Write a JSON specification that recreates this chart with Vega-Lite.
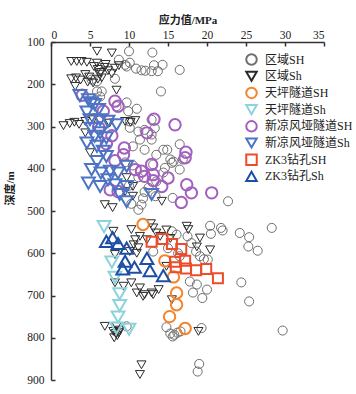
{
  "$schema": "https://vega.github.io/schema/vega-lite/v6.json",
  "autosize": "none",
  "width": 273,
  "height": 338,
  "padding": {"left": 51, "top": 42, "right": 32, "bottom": 14},
  "background": "white",
  "config": {
    "view": {"stroke": null},
    "font": "Liberation Serif, Noto Sans CJK SC",
    "axis": {"grid": false, "domainColor": "#333", "domainWidth": 1.5, "tickColor": "#333", "tickWidth": 1.5, "tickSize": -4, "labelFont": "Liberation Serif", "labelFontSize": 11.5, "labelColor": "#222", "titleFont": "Liberation Serif, Noto Sans CJK SC", "titleFontSize": 11, "titleFontWeight": "bold", "titleColor": "#222"},
    "legend": {"labelFont": "Liberation Serif, Noto Sans CJK SC", "labelFontSize": 12, "labelColor": "#222", "symbolSize": 110, "symbolStrokeWidth": 2}
  },
  "data": {"values": [
    {"v":10.0,"d":122,"s":"区域SH"},{"v":13.0,"d":125,"s":"区域SH"},{"v":8.7,"d":142,"s":"区域SH"},{"v":10.1,"d":149,"s":"区域SH"},{"v":9.5,"d":154,"s":"区域SH"},{"v":9.7,"d":158,"s":"区域SH"},{"v":10.9,"d":163,"s":"区域SH"},{"v":11.6,"d":167,"s":"区域SH"},{"v":12.1,"d":168,"s":"区域SH"},{"v":12.9,"d":169,"s":"区域SH"},{"v":13.2,"d":155,"s":"区域SH"},{"v":14.3,"d":154,"s":"区域SH"},{"v":13.7,"d":169,"s":"区域SH"},{"v":16.5,"d":166,"s":"区域SH"},{"v":14.1,"d":217,"s":"区域SH"},{"v":5.2,"d":189,"s":"区域SH"},{"v":5.9,"d":193,"s":"区域SH"},{"v":8.2,"d":187,"s":"区域SH"},{"v":5.9,"d":217,"s":"区域SH"},{"v":6.5,"d":217,"s":"区域SH"},{"v":6.3,"d":229,"s":"区域SH"},{"v":9.7,"d":243,"s":"区域SH"},{"v":8.4,"d":252,"s":"区域SH"},{"v":9.9,"d":264,"s":"区域SH"},{"v":11.0,"d":258,"s":"区域SH"},{"v":10.1,"d":288,"s":"区域SH"},{"v":10.1,"d":303,"s":"区域SH"},{"v":11.2,"d":312,"s":"区域SH"},{"v":12.0,"d":308,"s":"区域SH"},{"v":11.4,"d":331,"s":"区域SH"},{"v":12.9,"d":331,"s":"区域SH"},{"v":10.5,"d":347,"s":"区域SH"},{"v":12.0,"d":355,"s":"区域SH"},{"v":12.9,"d":284,"s":"区域SH"},{"v":13.3,"d":304,"s":"区域SH"},{"v":12.9,"d":319,"s":"区域SH"},{"v":13.5,"d":367,"s":"区域SH"},{"v":14.4,"d":355,"s":"区域SH"},{"v":14.9,"d":355,"s":"区域SH"},{"v":16.5,"d":342,"s":"区域SH"},{"v":15.3,"d":378,"s":"区域SH"},{"v":15.7,"d":383,"s":"区域SH"},{"v":13.1,"d":390,"s":"区域SH"},{"v":14.6,"d":398,"s":"区域SH"},{"v":15.5,"d":386,"s":"区域SH"},{"v":16.5,"d":402,"s":"区域SH"},{"v":16.9,"d":378,"s":"区域SH"},{"v":14.4,"d":409,"s":"区域SH"},{"v":9.5,"d":385,"s":"区域SH"},{"v":10.5,"d":392,"s":"区域SH"},{"v":11.2,"d":420,"s":"区域SH"},{"v":12.5,"d":445,"s":"区域SH"},{"v":10.0,"d":440,"s":"区域SH"},{"v":13.5,"d":430,"s":"区域SH"},{"v":11.8,"d":470,"s":"区域SH"},{"v":13.4,"d":465,"s":"区域SH"},{"v":12.0,"d":455,"s":"区域SH"},{"v":15.6,"d":469,"s":"区域SH"},{"v":22.7,"d":477,"s":"区域SH"},{"v":10.3,"d":483,"s":"区域SH"},{"v":11.2,"d":497,"s":"区域SH"},{"v":11.6,"d":485,"s":"区域SH"},{"v":20.4,"d":535,"s":"区域SH"},{"v":20.5,"d":554,"s":"区域SH"},{"v":21.8,"d":540,"s":"区域SH"},{"v":22.0,"d":546,"s":"区域SH"},{"v":24.2,"d":552,"s":"区域SH"},{"v":25.4,"d":562,"s":"区域SH"},{"v":25.3,"d":584,"s":"区域SH"},{"v":26.5,"d":594,"s":"区域SH"},{"v":28.3,"d":540,"s":"区域SH"},{"v":15.5,"d":548,"s":"区域SH"},{"v":16.1,"d":556,"s":"区域SH"},{"v":18.0,"d":576,"s":"区域SH"},{"v":18.6,"d":596,"s":"区域SH"},{"v":19.1,"d":607,"s":"区域SH"},{"v":16.5,"d":607,"s":"区域SH"},{"v":20.1,"d":615,"s":"区域SH"},{"v":19.6,"d":614,"s":"区域SH"},{"v":13.1,"d":596,"s":"区域SH"},{"v":15.0,"d":588,"s":"区域SH"},{"v":16.3,"d":600,"s":"区域SH"},{"v":17.5,"d":560,"s":"区域SH"},{"v":17.8,"d":667,"s":"区域SH"},{"v":18.7,"d":674,"s":"区域SH"},{"v":18.2,"d":693,"s":"区域SH"},{"v":19.4,"d":706,"s":"区域SH"},{"v":20.0,"d":686,"s":"区域SH"},{"v":24.4,"d":669,"s":"区域SH"},{"v":25.4,"d":714,"s":"区域SH"},{"v":19.3,"d":777,"s":"区域SH"},{"v":29.7,"d":783,"s":"区域SH"},{"v":14.8,"d":775,"s":"区域SH"},{"v":15.3,"d":790,"s":"区域SH"},{"v":15.8,"d":793,"s":"区域SH"},{"v":16.2,"d":788,"s":"区域SH"},{"v":16.6,"d":785,"s":"区域SH"},{"v":15.6,"d":797,"s":"区域SH"},{"v":9.7,"d":773,"s":"区域SH"},{"v":19.0,"d":862,"s":"区域SH"},{"v":18.8,"d":880,"s":"区域SH"},

    {"v":5.9,"d":122,"s":"区域Sh"},{"v":7.8,"d":126,"s":"区域Sh"},{"v":2.6,"d":146,"s":"区域Sh"},{"v":3.3,"d":146,"s":"区域Sh"},{"v":3.9,"d":146,"s":"区域Sh"},{"v":4.6,"d":148,"s":"区域Sh"},{"v":5.5,"d":158,"s":"区域Sh"},{"v":6.0,"d":165,"s":"区域Sh"},{"v":6.4,"d":172,"s":"区域Sh"},{"v":6.9,"d":160,"s":"区域Sh"},{"v":7.3,"d":168,"s":"区域Sh"},{"v":7.8,"d":175,"s":"区域Sh"},{"v":8.2,"d":162,"s":"区域Sh"},{"v":8.7,"d":156,"s":"区域Sh"},{"v":5.9,"d":150,"s":"区域Sh"},{"v":7.0,"d":153,"s":"区域Sh"},{"v":6.2,"d":176,"s":"区域Sh"},{"v":2.6,"d":187,"s":"区域Sh"},{"v":3.2,"d":185,"s":"区域Sh"},{"v":3.8,"d":190,"s":"区域Sh"},{"v":4.4,"d":177,"s":"区域Sh"},{"v":4.9,"d":183,"s":"区域Sh"},{"v":3.1,"d":205,"s":"区域Sh"},{"v":4.7,"d":195,"s":"区域Sh"},{"v":5.4,"d":197,"s":"区域Sh"},{"v":6.0,"d":188,"s":"区域Sh"},{"v":6.5,"d":185,"s":"区域Sh"},{"v":8.4,"d":214,"s":"区域Sh"},{"v":1.6,"d":298,"s":"区域Sh"},{"v":2.4,"d":293,"s":"区域Sh"},{"v":3.0,"d":290,"s":"区域Sh"},{"v":3.6,"d":295,"s":"区域Sh"},{"v":4.4,"d":288,"s":"区域Sh"},{"v":5.4,"d":284,"s":"区域Sh"},{"v":9.5,"d":288,"s":"区域Sh"},{"v":10.2,"d":290,"s":"区域Sh"},{"v":10.8,"d":286,"s":"区域Sh"},{"v":7.5,"d":292,"s":"区域Sh"},{"v":4.4,"d":315,"s":"区域Sh"},{"v":5.0,"d":362,"s":"区域Sh"},{"v":9.7,"d":421,"s":"区域Sh"},{"v":10.5,"d":442,"s":"区域Sh"},{"v":9.5,"d":454,"s":"区域Sh"},{"v":10.5,"d":465,"s":"区域Sh"},{"v":6.9,"d":485,"s":"区域Sh"},{"v":7.9,"d":492,"s":"区域Sh"},{"v":14.2,"d":477,"s":"区域Sh"},{"v":8.0,"d":548,"s":"区域Sh"},{"v":10.3,"d":544,"s":"区域Sh"},{"v":11.4,"d":560,"s":"区域Sh"},{"v":10.8,"d":568,"s":"区域Sh"},{"v":10.6,"d":580,"s":"区域Sh"},{"v":11.2,"d":587,"s":"区域Sh"},{"v":13.1,"d":540,"s":"区域Sh"},{"v":13.5,"d":552,"s":"区域Sh"},{"v":12.3,"d":568,"s":"区域Sh"},{"v":12.8,"d":530,"s":"区域Sh"},{"v":14.0,"d":560,"s":"区域Sh"},{"v":14.8,"d":545,"s":"区域Sh"},{"v":15.3,"d":565,"s":"区域Sh"},{"v":17.4,"d":536,"s":"区域Sh"},{"v":17.6,"d":544,"s":"区域Sh"},{"v":19.1,"d":564,"s":"区域Sh"},{"v":18.7,"d":585,"s":"区域Sh"},{"v":20.4,"d":592,"s":"区域Sh"},{"v":8.2,"d":603,"s":"区域Sh"},{"v":11.0,"d":600,"s":"区域Sh"},{"v":10.1,"d":596,"s":"区域Sh"},{"v":14.8,"d":631,"s":"区域Sh"},{"v":10.3,"d":670,"s":"区域Sh"},{"v":11.4,"d":682,"s":"区域Sh"},{"v":11.8,"d":702,"s":"区域Sh"},{"v":12.9,"d":694,"s":"区域Sh"},{"v":13.8,"d":686,"s":"区域Sh"},{"v":8.2,"d":670,"s":"区域Sh"},{"v":9.3,"d":678,"s":"区域Sh"},{"v":11.0,"d":694,"s":"区域Sh"},{"v":12.0,"d":698,"s":"区域Sh"},{"v":13.1,"d":698,"s":"区域Sh"},{"v":15.5,"d":710,"s":"区域Sh"},{"v":6.9,"d":773,"s":"区域Sh"},{"v":8.4,"d":773,"s":"区域Sh"},{"v":8.0,"d":785,"s":"区域Sh"},{"v":8.3,"d":790,"s":"区域Sh"},{"v":8.5,"d":795,"s":"区域Sh"},{"v":8.7,"d":788,"s":"区域Sh"},{"v":8.1,"d":800,"s":"区域Sh"},{"v":8.8,"d":782,"s":"区域Sh"},{"v":18.9,"d":785,"s":"区域Sh"},{"v":11.6,"d":864,"s":"区域Sh"},{"v":11.4,"d":887,"s":"区域Sh"},

    {"v":11.8,"d":532,"s":"天坪隧道SH"},{"v":14.6,"d":618,"s":"天坪隧道SH"},{"v":15.7,"d":656,"s":"天坪隧道SH"},{"v":16.1,"d":694,"s":"天坪隧道SH"},{"v":16.1,"d":722,"s":"天坪隧道SH"},{"v":15.2,"d":750,"s":"天坪隧道SH"},{"v":17.2,"d":778,"s":"天坪隧道SH"},

    {"v":6.8,"d":537,"s":"天坪隧道Sh"},{"v":7.8,"d":621,"s":"天坪隧道Sh"},{"v":8.2,"d":657,"s":"天坪隧道Sh"},{"v":8.8,"d":696,"s":"天坪隧道Sh"},{"v":8.8,"d":724,"s":"天坪隧道Sh"},{"v":8.6,"d":751,"s":"天坪隧道Sh"},{"v":8.4,"d":777,"s":"天坪隧道Sh"},{"v":10.0,"d":780,"s":"天坪隧道Sh"},

    {"v":4.0,"d":226,"s":"新凉风垭隧道SH"},{"v":8.2,"d":240,"s":"新凉风垭隧道SH"},{"v":8.6,"d":252,"s":"新凉风垭隧道SH"},{"v":6.7,"d":264,"s":"新凉风垭隧道SH"},{"v":13.2,"d":283,"s":"新凉风垭隧道SH"},{"v":15.9,"d":296,"s":"新凉风垭隧道SH"},{"v":6.1,"d":302,"s":"新凉风垭隧道SH"},{"v":7.8,"d":322,"s":"新凉风垭隧道SH"},{"v":7.1,"d":341,"s":"新凉风垭隧道SH"},{"v":9.4,"d":351,"s":"新凉风垭隧道SH"},{"v":9.3,"d":367,"s":"新凉风垭隧道SH"},{"v":8.2,"d":381,"s":"新凉风垭隧道SH"},{"v":12.3,"d":315,"s":"新凉风垭隧道SH"},{"v":17.3,"d":361,"s":"新凉风垭隧道SH"},{"v":17.2,"d":374,"s":"新凉风垭隧道SH"},{"v":10.8,"d":402,"s":"新凉风垭隧道SH"},{"v":11.6,"d":406,"s":"新凉风垭隧道SH"},{"v":12.9,"d":390,"s":"新凉风垭隧道SH"},{"v":12.0,"d":418,"s":"新凉风垭隧道SH"},{"v":13.1,"d":414,"s":"新凉风垭隧道SH"},{"v":13.1,"d":428,"s":"新凉风垭隧道SH"},{"v":14.2,"d":442,"s":"新凉风垭隧道SH"},{"v":15.0,"d":422,"s":"新凉风垭隧道SH"},{"v":17.4,"d":438,"s":"新凉风垭隧道SH"},{"v":18.0,"d":457,"s":"新凉风垭隧道SH"},{"v":20.6,"d":457,"s":"新凉风垭隧道SH"},{"v":16.7,"d":480,"s":"新凉风垭隧道SH"},{"v":7.6,"d":450,"s":"新凉风垭隧道SH"},{"v":8.6,"d":454,"s":"新凉风垭隧道SH"},

    {"v":3.7,"d":227,"s":"新凉风垭隧道Sh"},{"v":4.8,"d":237,"s":"新凉风垭隧道Sh"},{"v":5.6,"d":248,"s":"新凉风垭隧道Sh"},{"v":5.2,"d":244,"s":"新凉风垭隧道Sh"},{"v":4.6,"d":266,"s":"新凉风垭隧道Sh"},{"v":6.1,"d":260,"s":"新凉风垭隧道Sh"},{"v":5.0,"d":284,"s":"新凉风垭隧道Sh"},{"v":6.3,"d":284,"s":"新凉风垭隧道Sh"},{"v":7.3,"d":288,"s":"新凉风垭隧道Sh"},{"v":8.4,"d":296,"s":"新凉风垭隧道Sh"},{"v":5.2,"d":304,"s":"新凉风垭隧道Sh"},{"v":6.3,"d":315,"s":"新凉风垭隧道Sh"},{"v":5.6,"d":323,"s":"新凉风垭隧道Sh"},{"v":7.1,"d":327,"s":"新凉风垭隧道Sh"},{"v":4.6,"d":339,"s":"新凉风垭隧道Sh"},{"v":5.9,"d":347,"s":"新凉风垭隧道Sh"},{"v":6.7,"d":359,"s":"新凉风垭隧道Sh"},{"v":7.1,"d":371,"s":"新凉风垭隧道Sh"},{"v":5.9,"d":383,"s":"新凉风垭隧道Sh"},{"v":5.2,"d":402,"s":"新凉风垭隧道Sh"},{"v":6.4,"d":410,"s":"新凉风垭隧道Sh"},{"v":7.6,"d":406,"s":"新凉风垭隧道Sh"},{"v":8.6,"d":410,"s":"新凉风垭隧道Sh"},{"v":9.7,"d":394,"s":"新凉风垭隧道Sh"},{"v":4.8,"d":434,"s":"新凉风垭隧道Sh"},{"v":6.3,"d":442,"s":"新凉风垭隧道Sh"},{"v":7.3,"d":426,"s":"新凉风垭隧道Sh"},{"v":8.2,"d":438,"s":"新凉风垭隧道Sh"},{"v":9.7,"d":442,"s":"新凉风垭隧道Sh"},{"v":8.8,"d":461,"s":"新凉风垭隧道Sh"},{"v":9.7,"d":478,"s":"新凉风垭隧道Sh"},{"v":12.9,"d":461,"s":"新凉风垭隧道Sh"},

    {"v":12.9,"d":573,"s":"ZK3钻孔SH"},{"v":14.3,"d":566,"s":"ZK3钻孔SH"},{"v":15.5,"d":578,"s":"ZK3钻孔SH"},{"v":16.7,"d":590,"s":"ZK3钻孔SH"},{"v":15.9,"d":620,"s":"ZK3钻孔SH"},{"v":17.2,"d":618,"s":"ZK3钻孔SH"},{"v":16.0,"d":633,"s":"ZK3钻孔SH"},{"v":17.3,"d":636,"s":"ZK3钻孔SH"},{"v":18.6,"d":640,"s":"ZK3钻孔SH"},{"v":19.9,"d":637,"s":"ZK3钻孔SH"},{"v":21.4,"d":659,"s":"ZK3钻孔SH"},

    {"v":7.1,"d":572,"s":"ZK3钻孔Sh"},{"v":7.9,"d":563,"s":"ZK3钻孔Sh"},{"v":8.6,"d":577,"s":"ZK3钻孔Sh"},{"v":9.7,"d":588,"s":"ZK3钻孔Sh"},{"v":9.5,"d":619,"s":"ZK3钻孔Sh"},{"v":9.2,"d":637,"s":"ZK3钻孔Sh"},{"v":10.7,"d":633,"s":"ZK3钻孔Sh"},{"v":12.3,"d":612,"s":"ZK3钻孔Sh"},{"v":12.7,"d":641,"s":"ZK3钻孔Sh"},{"v":14.4,"d":653,"s":"ZK3钻孔Sh"}
  ]},
  "encoding": {
    "x": {"field": "v", "type": "quantitative", "scale": {"domain": [0, 35], "nice": false, "zero": false},
      "axis": {"orient": "top", "title": "应力值/MPa", "values": [0,5,10,15,20,25,30,35], "labelPadding": 6, "titlePadding": 4}},
    "y": {"field": "d", "type": "quantitative", "scale": {"domain": [100, 900], "reverse": true, "nice": false, "zero": false},
      "axis": {"title": "深度/m", "values": [100,200,300,400,500,600,700,800,900], "labelPadding": 11, "titleX": -36, "titleY": 146}},
    "color": {"field": "s", "type": "nominal",
      "scale": {"domain": ["区域SH","区域Sh","天坪隧道SH","天坪隧道Sh","新凉风垭隧道SH","新凉风垭隧道Sh","ZK3钻孔SH","ZK3钻孔Sh"],
        "range": ["#6e6e6e","#2a2a2a","#f5832a","#8dd3dc","#a35fbf","#4d74c4","#ee4b2b","#1d4ea6"]},
      "legend": {"title": null, "orient": "none", "legendX": 194, "legendY": 11, "rowPadding": -2.3, "labelOffset": 7}},
    "shape": {"field": "s", "type": "nominal",
      "scale": {"domain": ["区域SH","区域Sh","天坪隧道SH","天坪隧道Sh","新凉风垭隧道SH","新凉风垭隧道Sh","ZK3钻孔SH","ZK3钻孔Sh"],
        "range": ["circle","triangle-down","circle","triangle-down","circle","triangle-down","square","triangle-up"]}}
  },
  "layer": [
    {"transform": [{"filter": "datum.s === '区域SH' || datum.s === '区域Sh'"}],
     "mark": {"type": "point", "filled": false, "opacity": 1, "size": 82, "strokeWidth": 1}},
    {"transform": [{"filter": "datum.s === '天坪隧道SH' || datum.s === '新凉风垭隧道SH'"}],
     "mark": {"type": "point", "filled": false, "opacity": 1, "size": 130, "strokeWidth": 2}},
    {"transform": [{"filter": "datum.s === '天坪隧道Sh' || datum.s === '新凉风垭隧道Sh' || datum.s === 'ZK3钻孔Sh'"}],
     "mark": {"type": "point", "filled": false, "opacity": 1, "size": 165, "strokeWidth": 2}},
    {"transform": [{"filter": "datum.s === 'ZK3钻孔SH'"}],
     "mark": {"type": "point", "filled": false, "opacity": 1, "size": 100, "strokeWidth": 2}}
  ]
}
